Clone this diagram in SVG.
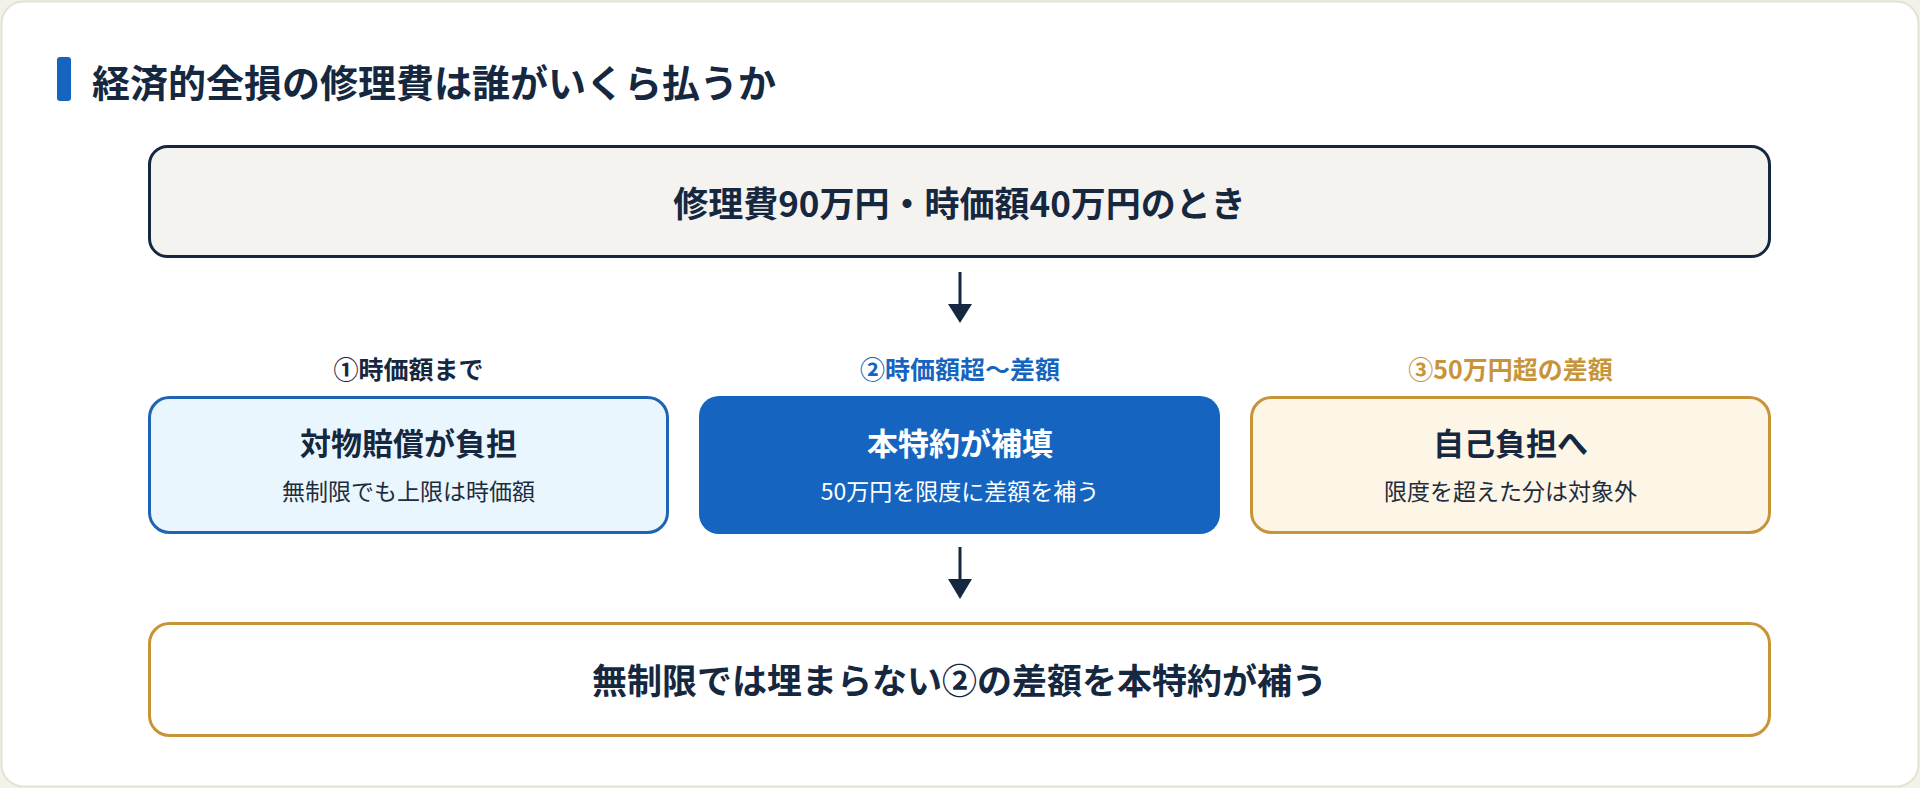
<svg xmlns="http://www.w3.org/2000/svg" width="1920" height="788" viewBox="0 0 1920 788">
  <defs>
    <style>
      .t { font-family: "Noto Sans CJK JP", "Noto Sans", sans-serif; }
      .b { font-weight: 700; }
      .r { font-weight: 400; }
      .navy { fill: #15283f; }
      .mid { text-anchor: middle; }
      .conn line { stroke: #15283f; stroke-width: 3; }
      .conn polygon { fill: #15283f; }
    </style>
  </defs>
  <rect x="0" y="0" width="1920" height="788" fill="#f3f1ea"/>
  <rect x="1.5" y="1.5" width="1917" height="785" rx="22" fill="#ffffff" stroke="#e5e1d3" stroke-width="2"/>

  <g id="title">
    <rect x="57" y="57" width="14" height="44" rx="3" fill="#1565c0"/>
    <text class="t b navy" x="92" y="97" font-size="38">経済的全損の修理費は誰がいくら払うか</text>
  </g>

  <g id="premise">
    <rect x="149.5" y="146.5" width="1620" height="110" rx="18" fill="#f5f3ef" stroke="#15283f" stroke-width="3"/>
    <text class="t b navy mid" x="959.5" y="217" font-size="35">修理費90万円・時価額40万円のとき</text>
  </g>

  <g id="step1">
    <text class="t b navy mid" x="408.5" y="379" font-size="25">①時価額まで</text>
    <rect x="149.5" y="397.5" width="518" height="135" rx="20" fill="#eaf6fd" stroke="#1f64b4" stroke-width="3"/>
    <text class="t b navy mid" x="408.5" y="455" font-size="31">対物賠償が負担</text>
    <text class="t r mid" x="408.5" y="500" font-size="23" fill="#1e2d3e">無制限でも上限は時価額</text>
  </g>

  <g id="step2">
    <text class="t b mid" x="960" y="379" font-size="25" fill="#1565c0">②時価額超〜差額</text>
    <rect x="699" y="396" width="521" height="138" rx="20" fill="#1565c0"/>
    <text class="t b mid" x="960" y="455" font-size="31" fill="#ffffff">本特約が補填</text>
    <text class="t r mid" x="960" y="500" font-size="23" fill="#ffffff">50万円を限度に差額を補う</text>
  </g>

  <g id="step3">
    <text class="t b mid" x="1510.5" y="379" font-size="25" fill="#c8943a">③50万円超の差額</text>
    <rect x="1251.5" y="397.5" width="518" height="135" rx="20" fill="#fdf5e6" stroke="#c8943a" stroke-width="3"/>
    <text class="t b navy mid" x="1510.5" y="455" font-size="31">自己負担へ</text>
    <text class="t r mid" x="1510.5" y="500" font-size="23" fill="#1e2d3e">限度を超えた分は対象外</text>
  </g>

  <g id="conclusion">
    <rect x="149.5" y="623.5" width="1620" height="112" rx="20" fill="#ffffff" stroke="#c8943a" stroke-width="3"/>
    <text class="t b navy mid" x="959.5" y="694" font-size="35">無制限では埋まらない②の差額を本特約が補う</text>
  </g>

  <g id="connectors" class="conn">
    <line x1="960" y1="272" x2="960" y2="306"/>
    <polygon points="948,304 972,304 960,323"/>
    <line x1="960" y1="547" x2="960" y2="581"/>
    <polygon points="948,579 972,579 960,599"/>
  </g>
</svg>
